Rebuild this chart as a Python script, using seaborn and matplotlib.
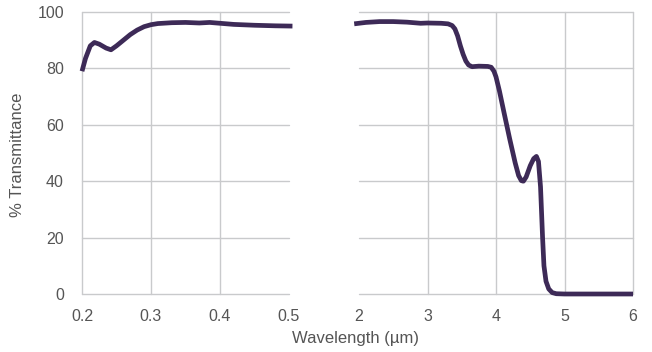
import numpy as np
import pandas as pd
import matplotlib
matplotlib.use("Agg")
import matplotlib.pyplot as plt
import seaborn as sns

# UV / visible side (µm, %T)
uv_wavelength = [0.200, 0.205, 0.212, 0.218, 0.225, 0.235, 0.242, 0.250, 0.260,
                 0.270, 0.280, 0.290, 0.300, 0.310, 0.330, 0.350, 0.370, 0.385,
                 0.400, 0.420, 0.450, 0.480, 0.505]
uv_transmittance = [79.0, 83.5, 88.0, 89.2, 88.6, 87.2, 86.6, 88.0, 90.0,
                    92.0, 93.6, 94.8, 95.5, 95.9, 96.2, 96.3, 96.1, 96.3,
                    96.0, 95.6, 95.3, 95.1, 95.0]

# IR side (µm, %T)
ir_wavelength = [1.93, 2.10, 2.30, 2.50, 2.70, 2.90, 3.00, 3.20, 3.30, 3.36,
                 3.40, 3.44, 3.48, 3.52, 3.56, 3.60, 3.65, 3.75, 3.88, 3.93,
                 3.97, 4.00, 4.05, 4.12, 4.20, 4.28, 4.33, 4.37, 4.40, 4.44,
                 4.50, 4.55, 4.59, 4.62, 4.65, 4.68, 4.70, 4.73, 4.77, 4.82,
                 4.88, 5.00, 5.50, 6.00]
ir_transmittance = [95.8, 96.3, 96.6, 96.6, 96.4, 96.0, 96.1, 96.0, 95.8, 95.2,
                    94.0, 91.5, 88.0, 85.0, 82.6, 81.2, 80.6, 80.8, 80.7, 80.4,
                    79.0, 77.0, 72.0, 64.0, 55.0, 46.5, 42.0, 40.2, 40.0, 41.5,
                    45.5, 48.0, 48.8, 47.0, 38.0, 20.0, 10.0, 4.5, 1.8, 0.5,
                    0.1, 0.0, 0.0, 0.0]

uv_ticks = [0.2, 0.3, 0.4, 0.5]
ir_ticks = [2, 3, 4, 5, 6]
y_ticks = [0, 20, 40, 60, 80, 100]

LINE_COLOR = '#3d2a57'
GRID_COLOR = '#c9cacc'
TEXT_COLOR = '#555555'

sns.set_theme(style="white")
plt.rcParams['font.family'] = ['Liberation Sans', 'DejaVu Sans']
plt.rcParams['text.color'] = TEXT_COLOR
plt.rcParams['xtick.color'] = TEXT_COLOR
plt.rcParams['ytick.color'] = TEXT_COLOR

uv = pd.DataFrame({'wl': uv_wavelength, 't': uv_transmittance})
ir = pd.DataFrame({'wl': ir_wavelength, 't': ir_transmittance})

fig = plt.figure(figsize=(6.52, 3.52), dpi=100)
ax1 = fig.add_axes([82 / 652, 1 - 294 / 352, 207 / 652, 282 / 352])
ax2 = fig.add_axes([359 / 652, 1 - 294 / 352, 274 / 652, 282 / 352])

sns.lineplot(data=uv, x='wl', y='t', ax=ax1, color=LINE_COLOR, linewidth=3.4)
sns.lineplot(data=ir, x='wl', y='t', ax=ax2, color=LINE_COLOR, linewidth=3.4)

for ax, ticks in [(ax1, uv_ticks), (ax2, ir_ticks)]:
    ax.set_xlim(ticks[0], ticks[-1])
    ax.set_ylim(0, 100)
    ax.set_xticks(ticks)
    ax.set_yticks(y_ticks)
    ax.grid(True, color=GRID_COLOR, linewidth=1.0)
    ax.set_axisbelow(True)
    for s in ax.spines.values():
        s.set_visible(False)
    ax.tick_params(axis='both', length=0, labelsize=11.5)
    ax.tick_params(axis='x', pad=11)
    ax.tick_params(axis='y', pad=13)
    ax.set_xlabel('')
    ax.set_ylabel('')
    for line in ax.lines:
        line.set_clip_on(False)
        line.set_solid_capstyle('butt')
        line.set_solid_joinstyle('round')
    for gl in ax.xaxis.get_gridlines() + ax.yaxis.get_gridlines():
        gl.set_clip_on(False)

ax1.set_xticklabels(['0.2', '0.3', '0.4', '0.5'])
ax2.tick_params(axis='y', left=False, labelleft=False)

# no vertical grid where the two panels meet
ax1.xaxis.get_gridlines()[-1].set_visible(False)
ax2.xaxis.get_gridlines()[0].set_visible(False)

fig.text(18 / 652, 1 - 155 / 352, '% Transmittance', rotation=90,
         ha='center', va='center', fontsize=12, color=TEXT_COLOR)
fig.text(355 / 652, 1 - 338 / 352, 'Wavelength (µm)',
         ha='center', va='center', fontsize=12, color=TEXT_COLOR)

fig.savefig('out.png', dpi=100, facecolor='white')
